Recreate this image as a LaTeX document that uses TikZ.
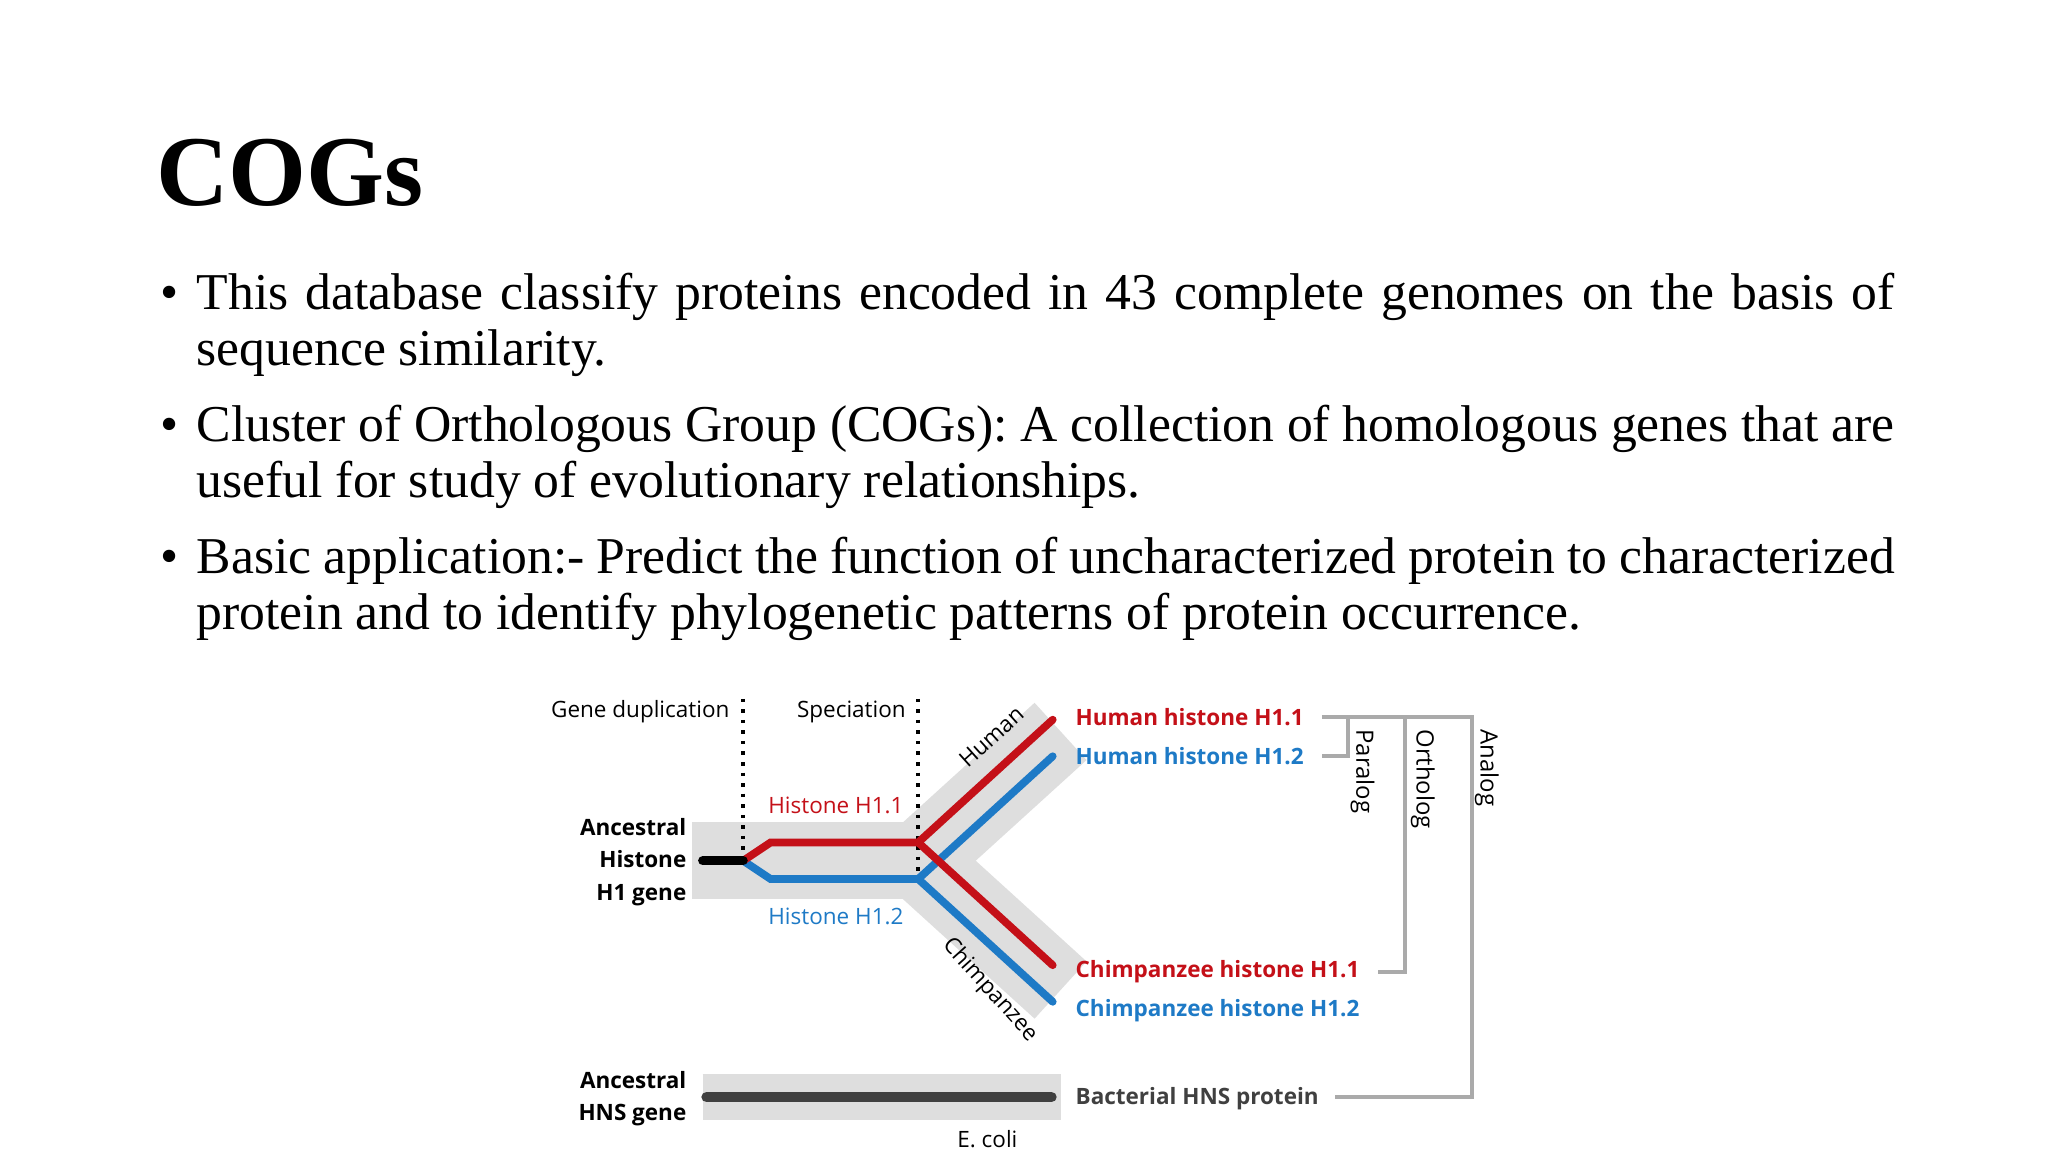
\documentclass[tikz,border=0pt]{standalone}
\usepackage{fontspec}
\setmainfont{Liberation Serif}
\newfontfamily\diag{Open Sans}
\definecolor{hred}{RGB}{196,16,24}
\definecolor{hblue}{RGB}{30,122,198}
\definecolor{band}{RGB}{222,222,222}
\definecolor{brk}{RGB}{170,170,170}
\definecolor{hns}{RGB}{64,64,64}
\frenchspacing
\begin{document}
\begin{tikzpicture}[x=0.013061cm,y=-0.013061cm,
  body/.style={anchor=base west,inner sep=0,font=\fontsize{14.7}{17}\selectfont},
  lab/.style={inner sep=0,font=\diag\fontsize{6.4}{8}\selectfont},
  rlab/.style={lab,anchor=west,font=\diag\bfseries\fontsize{6.4}{8}\selectfont},
  bandline/.style={band,line width=22pt},
  gene/.style={line width=2.2pt},
  brack/.style={brk,line width=1.1pt},
  dots/.style={line width=1pt,dotted}]
\useasboundingbox[fill=white] (0,0) rectangle (1568,882);
\node[anchor=base west,inner sep=0,font=\bfseries\fontsize{28.5}{30}\selectfont] (title) at (119,157) {COGs};
\def\W{\makebox[16.98cm][s]}
\foreach \y in {237,338,439}{\node[body,anchor=base east] at (137,\y) {\textbullet};}
\node[body] (l1) at (150,237) {\W{This database classify proteins encoded in 43 complete genomes on the basis of}};
\node[body] (l2) at (150,280) {sequence similarity.};
\node[body] (l3) at (150,338) {\W{Cluster of Orthologous Group (COGs): A collection of homologous genes that are}};
\node[body] (l4) at (150,381) {useful for study of evolutionary relationships.};
\node[body] (l5) at (150,439) {\W{Basic application:- Predict the function of uncharacterized protein to characterized}};
\node[body] (l6) at (150,482) {protein and to identify phylogenetic patterns of protein occurrence.};
% bands
\draw[bandline] (530,659) -- (705,659);
\draw[bandline] (703,659) -- (812,560);
\draw[bandline] (703,659) -- (812,758);
\draw[band,line width=13pt] (538,840) -- (812,840);
% dotted
\coordinate (d1t) at (569,535); \coordinate (d1b) at (569,660);
\coordinate (d2t) at (703,535); \coordinate (d2b) at (703,675);
\draw[dots] (d1t) -- (d1b);
\draw[dots] (d2t) -- (d2b);
% genes
\coordinate (s0) at (538,659); \coordinate (s1) at (569,659);
\coordinate (r1) at (590,645); \coordinate (r2) at (703,645);
\coordinate (b1) at (590,673); \coordinate (b2) at (703,673);
\coordinate (hr) at (806,551); \coordinate (hb) at (806,579);
\coordinate (cr) at (806,739); \coordinate (cb) at (806,767);
\draw[gene,hblue,line cap=round] (s1) -- (b1) -- (b2) -- (hb);
\draw[gene,hblue,line cap=round] (b2) -- (cb);
\draw[gene,hred,line cap=round] (s1) -- (r1) -- (r2) -- (hr);
\draw[gene,hred,line cap=round] (r2) -- (cr);
\draw[line width=2.6pt,line cap=round] (s0) -- (s1);
\draw[hns,line width=3pt,line cap=round] (541,840) -- (805,840);
% labels
\node[lab,anchor=east] (gd) at (559,545) {Gene duplication};
\node[lab,anchor=east] (sp) at (694,545) {Speciation};
\node[lab,text=hred] (h11) at (640,617) {Histone H1.1};
\node[lab,text=hblue] (h12) at (640,702) {Histone H1.2};
\node[lab,rotate=42] (hum) at (759,564) {Human};
\node[lab,rotate=-48] (chp) at (758,758) {Chimpanzee};
\node[lab,font=\diag\bfseries\fontsize{6.4}{9.2}\selectfont,align=right,anchor=east] (anc) at (526,660) {Ancestral\\Histone\\H1 gene};
\node[lab,font=\diag\bfseries\fontsize{6.4}{9.2}\selectfont,align=right,anchor=east] (anh) at (526,841) {Ancestral\\HNS gene};
\node[lab] (eco) at (756,872) {E. coli};
\node[rlab,text=hred] (t1) at (823,549) {Human histone H1.1};
\node[rlab,text=hblue] (t2) at (823,579) {Human histone H1.2};
\node[rlab,text=hred] (t3) at (823,744) {Chimpanzee histone H1.1};
\node[rlab,text=hblue] (t4) at (823,774) {Chimpanzee histone H1.2};
\node[rlab,text=hns] (t5) at (823,841) {Bacterial HNS protein};
% brackets
\draw[brack] (1012,549) -- (1127,549) -- (1127,840) -- (1022,840);
\draw[brack] (1032,549) -- (1032,579) -- (1012,579);
\draw[brack] (1076,549) -- (1076,744) -- (1055,744);
\node[lab,rotate=-90,anchor=north west,font=\diag\fontsize{6.8}{8}\selectfont] (par) at (1053,558) {Paralog};
\node[lab,rotate=-90,anchor=north west,font=\diag\fontsize{6.8}{8}\selectfont] (ort) at (1099,558) {Ortholog};
\node[lab,rotate=-90,anchor=north west,font=\diag\fontsize{6.8}{8}\selectfont] (ana) at (1148,558) {Analog};
\end{tikzpicture}
\end{document}
